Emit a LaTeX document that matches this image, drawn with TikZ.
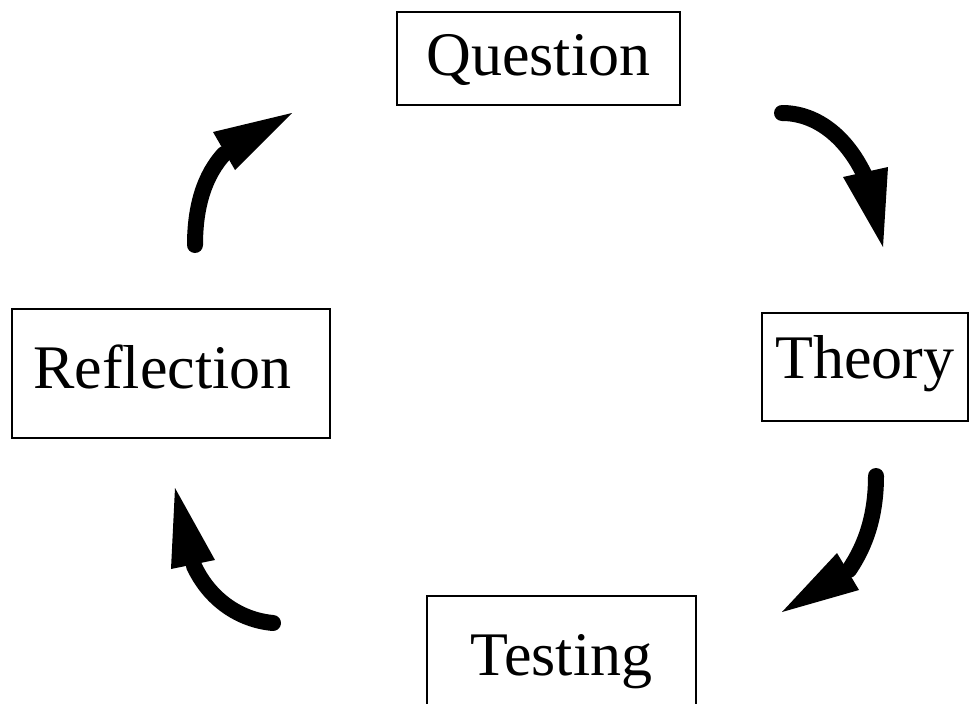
\documentclass[tikz,border=0pt]{standalone}
\usepackage{fontspec}
\setmainfont{Liberation Serif}
\begin{document}
\begin{tikzpicture}[x=1pt,y=-1pt,
  box/.style={draw=black,line width=1.5pt,rectangle,inner sep=0pt,
    font=\fontsize{62}{70}\selectfont,text height=45pt},
  shaft/.style={line width=16pt,line cap=round},
  headtri/.style={fill=black}]
\clip (0,0) rectangle (972,704);
\fill[white] (0,0) rectangle (972,704);
% boxes
\node[box,minimum width=283pt,minimum height=93pt,text depth=12pt] (q) at (538.5,58.5) {Question};
\node[box,minimum width=206pt,minimum height=108pt,text depth=23pt] (t) at (865,367) {Theory};
\node[box,minimum width=269pt,minimum height=116pt,text depth=3pt] (te) at (561.5,654) {Testing};
\node[box,minimum width=318pt,minimum height=129pt,text depth=16pt] (r) at (171,373.5) {Reflection\hspace*{17pt}};
% arrow 1: Reflection -> Question
\coordinate (a1s) at (195,245);
\coordinate (a1b) at (224,154);
\coordinate (a1t) at (292,113);
\coordinate (a1l) at (213,132);
\coordinate (a1r) at (235,170);
\draw[shaft] (a1s) .. controls (195,205) and (205,175) .. (a1b);
\fill[headtri] (a1t) -- (a1l) -- (a1r) -- cycle;
% arrow 2: Question -> Theory
\coordinate (a2s) at (782,113);
\coordinate (a2b) at (864,174);
\coordinate (a2t) at (883,247);
\coordinate (a2l) at (843,177);
\coordinate (a2r) at (888,167);
\draw[shaft] (a2s) .. controls (815,113) and (845,135) .. (a2b);
\fill[headtri] (a2t) -- (a2l) -- (a2r) -- cycle;
% arrow 3: Theory -> Testing
\coordinate (a3s) at (876,476);
\coordinate (a3b) at (849,570);
\coordinate (a3t) at (782,612);
\coordinate (a3l) at (837,553);
\coordinate (a3r) at (859,590);
\draw[shaft] (a3s) .. controls (876,515) and (866,545) .. (a3b);
\fill[headtri] (a3t) -- (a3l) -- (a3r) -- cycle;
% arrow 4: Testing -> Reflection
\coordinate (a4s) at (273,623);
\coordinate (a4b) at (194,566);
\coordinate (a4t) at (175,488);
\coordinate (a4l) at (171,569);
\coordinate (a4r) at (215,560);
\draw[shaft] (a4s) .. controls (240,620) and (210,600) .. (a4b);
\fill[headtri] (a4t) -- (a4l) -- (a4r) -- cycle;
\end{tikzpicture}
\end{document}
